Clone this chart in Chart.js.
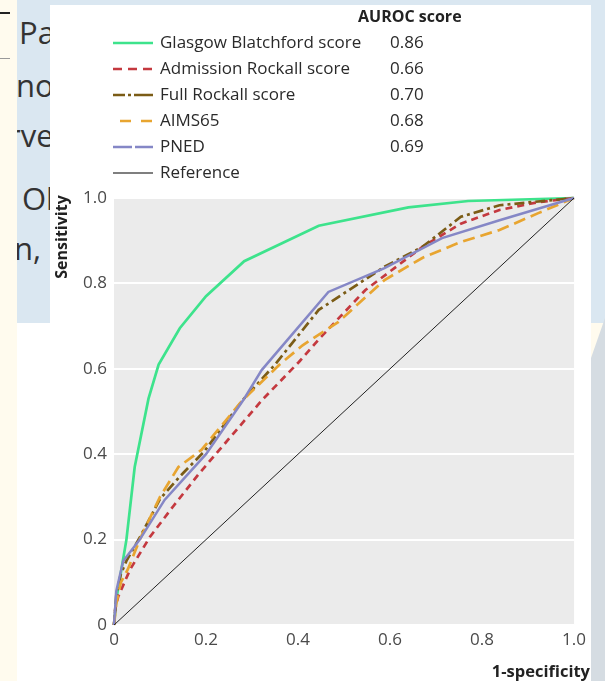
<!DOCTYPE html>
<html>
<head>
<meta charset="utf-8">
<script src="https://cdn.jsdelivr.net/npm/chart.js@4"></script>
<style>
  html,body{margin:0;padding:0;}
  body{width:605px;height:681px;position:relative;overflow:hidden;background:#fffbee;font-family:"Open Sans",sans-serif;}
  #blue{position:absolute;left:17px;top:0;width:588px;height:323px;background:#dae7f1;overflow:hidden;}
  #blue span{position:absolute;font-size:31px;color:#333;line-height:1;white-space:nowrap;}
  #rightgray{position:absolute;left:591px;top:318px;width:14px;height:363px;background:#d5dce2;clip-path:polygon(100% 0,100% 100%,0 100%,0 40px);}
  #whiteLow{position:absolute;left:17px;top:323px;width:574px;height:358px;background:#fff;}
  #box{position:absolute;left:50px;top:5px;width:541px;height:676px;background:#fff;}
  #topline{position:absolute;left:0;top:12px;width:10px;height:2px;background:#222;}
  #botline{position:absolute;left:0;top:58px;width:10px;height:1px;background:#999;}
  #five{position:absolute;left:-14px;top:19px;font-size:24px;color:#333;line-height:1;}
</style>
</head>
<body>
<div id="five">5</div>
<div id="topline"></div>
<div id="botline"></div>
<div id="blue">
  <span style="left:2px;top:17px;">Pa</span>
  <span style="left:-1px;top:70px;">no</span>
  <span style="left:-9px;top:120px;">rve</span>
  <span style="left:5px;top:183px;">Ol</span>
  <span style="left:-3px;top:233px;">n,</span>
</div>
<div id="rightgray"></div>
<div id="whiteLow"></div>
<div id="box"><canvas id="c" width="541" height="676"></canvas></div>
<script>
// ---- data ----
const seriesNames = ["Glasgow Blatchford score","Admission Rockall score","Full Rockall score","AIMS65","PNED","Reference"];
const aurocValues = ["0.86","0.66","0.70","0.68","0.69",""];
const tickValues = [0,0.2,0.4,0.6,0.8,1.0];
const tickLabels = ["0","0.2","0.4","0.6","0.8","1.0"];

const gbsX = [0,0.005,0.013,0.027,0.045,0.075,0.097,0.143,0.2,0.283,0.445,0.64,0.77,1];
const gbsY = [0,0.06,0.11,0.2,0.37,0.53,0.61,0.695,0.77,0.852,0.935,0.978,0.993,1];

const admX = [0,0.003,0.009,0.035,0.078,0.128,0.186,0.229,0.272,0.322,0.402,0.446,0.546,0.671,0.754,0.838,0.921,1];
const admY = [0,0.04,0.066,0.13,0.206,0.277,0.356,0.41,0.464,0.527,0.616,0.67,0.784,0.886,0.94,0.972,0.99,1];

const fullX = [0,0.005,0.015,0.027,0.056,0.1,0.145,0.195,0.28,0.35,0.445,0.588,0.671,0.754,0.838,1];
const fullY = [0,0.07,0.12,0.15,0.205,0.295,0.35,0.405,0.527,0.61,0.738,0.839,0.886,0.956,0.983,1];

const aimsX = [0,0.005,0.015,0.03,0.056,0.1,0.14,0.19,0.28,0.36,0.41,0.488,0.588,0.671,0.754,0.838,0.921,1];
const aimsY = [0,0.05,0.1,0.13,0.2,0.3,0.37,0.41,0.527,0.61,0.655,0.71,0.808,0.86,0.897,0.925,0.964,1];

const pnedX = [0,0.005,0.02,0.056,0.11,0.2,0.28,0.321,0.371,0.466,0.588,0.713,0.838,1];
const pnedY = [0,0.08,0.15,0.2,0.293,0.4,0.525,0.597,0.66,0.78,0.836,0.906,0.948,1];

const refX = [0,1];
const refY = [0,1];

// ---- styles ----
const colors = ["#3de38c","#c4393f","#7b5c16","#e8a530","#8587c6","#222222"];
const plotDash = [[],[7,5],[10,4,3,4],[12,6],[],[]];
const widths = [2.7,2.7,2.7,2.7,2.5,1];
const legendDash = [[],[9,6],[12,3,3,3,20,3],[11,10],[19,3],[]];
const legendStart = [0,0,0,7,0,0];
const legendColors = ["#3de38c","#c4393f","#7b5c16","#e8a530","#8587c6","#555555"];

const xs = [gbsX,admX,fullX,aimsX,pnedX,refX];
const ys = [gbsY,admY,fullY,aimsY,pnedY,refY];

const datasets = seriesNames.map((n,i)=>({
  label:n,
  data: xs[i].map((x,j)=>({x:x,y:ys[i][j]})),
  showLine:true,
  borderColor:colors[i],
  borderWidth:widths[i],
  borderDash:plotDash[i],
  pointRadius:0,
  fill:false,
  tension:0,
  clip:6
})).reverse();

const FONT = '"Open Sans", sans-serif';

const bgPlugin = {
  id:'bg',
  beforeDraw(chart){
    const {ctx,chartArea:a} = chart;
    ctx.save();
    ctx.fillStyle = '#ebebeb';
    ctx.fillRect(a.left,a.top,a.right-a.left,a.bottom-a.top);
    ctx.restore();
  },
  afterDraw(chart){
    const ctx = chart.ctx;
    ctx.save();
    // legend title
    ctx.fillStyle = '#222';
    ctx.font = 'bold 16px ' + FONT;
    ctx.textBaseline = 'middle';
    ctx.textAlign = 'left';
    ctx.fillText('AUROC score', 308, 12, 106);
    // legend rows
    for(let i=0;i<seriesNames.length;i++){
      const y = 38 + 26*i;
      ctx.beginPath();
      ctx.strokeStyle = legendColors[i];
      ctx.lineWidth = i===5 ? 1.5 : 2.7;
      ctx.setLineDash(legendDash[i]);
      ctx.moveTo(63+legendStart[i], y);
      ctx.lineTo(103, y);
      ctx.stroke();
      ctx.setLineDash([]);
      ctx.fillStyle = '#2a2a2a';
      ctx.font = '17px ' + FONT;
      ctx.fillText(seriesNames[i], 110, y);
      if(aurocValues[i]) ctx.fillText(aurocValues[i], 340, y);
    }
    // axis titles
    ctx.font = 'bold 16.5px ' + FONT;
    ctx.fillStyle = '#222';
    ctx.textAlign = 'right';
    ctx.fillText('1-specificity', 540, 667);
    ctx.font = 'bold 16px ' + FONT;
    ctx.translate(12, 232);
    ctx.rotate(-Math.PI/2);
    ctx.textAlign = 'center';
    ctx.fillText('Sensitivity', 0, 0, 86);
    ctx.restore();
  }
};

Chart.defaults.font.family = FONT;

new Chart(document.getElementById('c'), {
  type:'scatter',
  data:{datasets:datasets},
  options:{
    responsive:false,
    animation:false,
    events:[],
    layout:{padding:{top:193,right:14,left:0,bottom:0}},
    plugins:{legend:{display:false},tooltip:{enabled:false},title:{display:false}},
    scales:{
      x:{
        type:'linear',min:0,max:1,
        afterBuildTicks(s){ s.ticks = tickValues.map(v=>({value:v})); },
        afterFit(s){ s.height = 56; },
        ticks:{callback:(v)=>tickLabels[tickValues.indexOf(v)] ?? '',padding:5,color:'#4a4a4a',font:{size:17},maxRotation:0},
        grid:{display:false,drawTicks:false},
        border:{display:false}
      },
      y:{
        type:'linear',min:0,max:1,
        afterBuildTicks(s){ s.ticks = tickValues.map(v=>({value:v})); },
        afterFit(s){ s.width = 64; },
        ticks:{callback:(v)=>tickLabels[tickValues.indexOf(v)] ?? '',padding:7,color:'#4a4a4a',font:{size:17}},
        grid:{color:'#ffffff',lineWidth:2,drawTicks:false},
        border:{display:false}
      }
    }
  },
  plugins:[bgPlugin]
});
</script>
</body>
</html>
